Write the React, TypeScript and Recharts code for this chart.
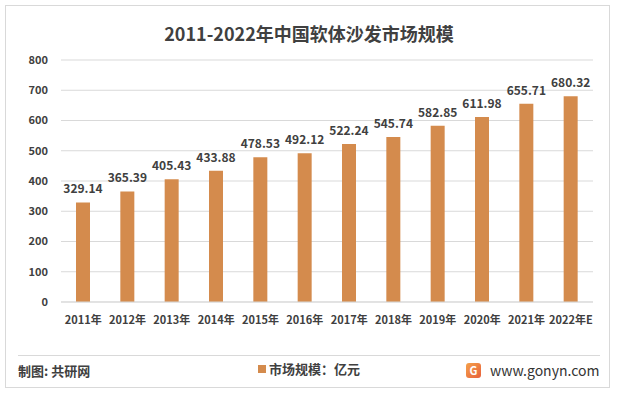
import { BarChart, Bar, XAxis, YAxis, CartesianGrid, LabelList } from 'recharts';

const years = ['2011年', '2012年', '2013年', '2014年', '2015年', '2016年', '2017年', '2018年', '2019年', '2020年', '2021年', '2022年E'];
const marketSize = [329.14, 365.39, 405.43, 433.88, 478.53, 492.12, 522.24, 545.74, 582.85, 611.98, 655.71, 680.32];
const yTicks = [0, 100, 200, 300, 400, 500, 600, 700, 800];

const seriesName = '市场规模：亿元';
const barColor = '#D48B4D';
const textColor = '#404040';
const font = "'Noto Sans CJK SC', 'Noto Sans', sans-serif";

const data = years.map((year, i) => ({ year, value: marketSize[i] }));

export default function App() {
  return (
    <div
      style={{
        position: 'absolute',
        left: 0,
        top: 0,
        width: 618,
        height: 395,
        background: '#fff',
        fontFamily: font,
      }}
    >
      <div
        style={{
          position: 'absolute',
          left: 5,
          top: 5,
          width: 603,
          height: 381,
          border: '1px solid #d9d9d9',
        }}
      />
      <div
        style={{
          position: 'absolute',
          top: 20,
          left: 0,
          width: 618,
          textAlign: 'center',
          fontSize: 18,
          fontWeight: 'bold',
          color: textColor,
        }}
      >
        2011-2022年中国软体沙发市场规模
      </div>
      <BarChart
        width={618}
        height={395}
        data={data}
        margin={{ top: 60, right: 25, left: 21, bottom: 63 }}
        style={{ position: 'absolute', left: 0, top: 0 }}
      >
        <CartesianGrid vertical={false} stroke="#d9d9d9" />
        <XAxis
          dataKey="year"
          height={30}
          tickLine={false}
          tickMargin={8}
          axisLine={{ stroke: '#d9d9d9' }}
          interval={0}
          tick={{ fill: textColor, fontSize: 11, fontWeight: 'bold', fontFamily: font }}
        />
        <YAxis
          width={40}
          domain={[0, 800]}
          ticks={yTicks}
          axisLine={false}
          tickLine={false}
          tickMargin={7}
          tick={{ fill: textColor, fontSize: 11, fontWeight: 'bold', fontFamily: font }}
        />
        <Bar dataKey="value" name={seriesName} fill={barColor} barSize={14} isAnimationActive={false}>
          <LabelList
            dataKey="value"
            position="top"
            offset={9}
            formatter={(v) => Number(v).toFixed(2)}
            style={{ fill: textColor, fontSize: 12, fontWeight: 'bold', fontFamily: font }}
          />
        </Bar>
      </BarChart>
      <div
        style={{
          position: 'absolute',
          left: 18,
          top: 355,
          width: 582,
          height: 1,
          background: '#d9d9d9',
        }}
      />
      <div
        style={{
          position: 'absolute',
          left: 18,
          top: 361,
          fontSize: 13,
          fontWeight: 'bold',
          color: textColor,
        }}
      >
        制图: 共研网
      </div>
      <div
        style={{
          position: 'absolute',
          left: 0,
          top: 359,
          width: 618,
          textAlign: 'center',
          fontSize: 13,
          fontWeight: 'bold',
          color: textColor,
        }}
      >
        <span
          style={{
            display: 'inline-block',
            width: 8,
            height: 8,
            background: barColor,
            marginRight: 3,
            verticalAlign: 'middle',
            position: 'relative',
            top: -1,
          }}
        />
        {seriesName}
      </div>
      <div
        style={{
          position: 'absolute',
          left: 466,
          top: 363,
          width: 15,
          height: 15,
          borderRadius: 3,
          background: 'linear-gradient(135deg, #f4a14a, #e8603c)',
          color: '#fff',
          fontSize: 11,
          fontWeight: 'bold',
          textAlign: 'center',
          lineHeight: '15px',
        }}
      >
        G
      </div>
      <div
        style={{
          position: 'absolute',
          left: 490,
          top: 360,
          fontSize: 14,
          color: '#333',
        }}
      >
        www.gonyn.com
      </div>
    </div>
  );
}
